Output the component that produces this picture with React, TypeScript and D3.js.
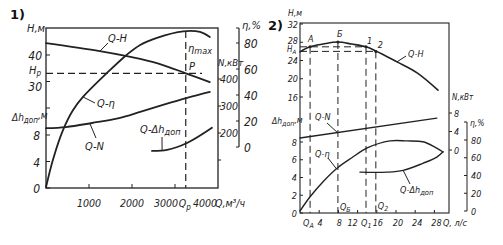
import React from "react";
import * as d3 from "d3";

// ---------- Chart 1 data (Q in m3/h) ----------
const c1QH = [0, 1250, 1880, 2190, 2720, 3250, 3810];
const c1H = [44.5, 41.5, 39.6, 38.5, 36.2, 33.1, 29.8];
const c1QEta = [0, 160, 395, 630, 860, 1420, 1880, 2190, 2580, 3190, 3580, 3810];
const c1Eta = [-31, -10, 13, 28.5, 38.5, 57, 71, 78.5, 84, 89, 88.5, 84.6];
const c1QN = [0, 465, 1070, 1700, 2190, 2720, 3280, 3810];
const c1N = [218, 222, 237, 255, 278, 304, 330, 352];
const c1QDh = [2465, 2814, 3279, 3860];
const c1Dh = [5.6, 5.75, 6.8, 9.1];
const c1Qp = 3250;
const c1Hp = 33.1;
const c1XTicks = [1000, 2000, 3000];
const c1XLabels = ["1000", "2000", "3000", "4000"];
const c1XLabelVals = [1000, 2000, 3000, 4000];
const c1HTicks = [20, 30, 40];
const c1HLabels = [30, 40];
const c1DhTicks = [0, 4, 8];
const c1NTicks = [100, 200, 300, 400];
const c1NLabels = [200, 300, 400];
const c1EtaTicks = [0, 20, 40, 60, 80];

// ---------- Chart 2 data (Q in l/s) ----------
const c2QH = [0, 2.1, 4.8, 7.9, 10.8, 13.75, 15.8, 20.2, 24.4, 28.75];
const c2H = [25.9, 27.0, 27.6, 28.05, 27.6, 27.0, 26.1, 23.7, 21.3, 17.5];
const c2QN = [0, 28.5];
const c2N = [2.6, 6.9];
const c2QEta = [0, 2.1, 4.8, 7.9, 10.8, 14.0, 18.75, 22.3, 25.6, 28.1, 29.8];
const c2Eta = [0, 16, 33, 49, 60, 71, 79, 79, 78, 72, 66.5];
const c2QDh = [12.5, 18.1, 21.5, 25.6, 28.5, 29.8];
const c2Dh = [4.6, 4.6, 4.8, 5.6, 6.3, 6.9];
const c2QA = 2.1, c2QB = 7.9, c2Q1 = 13.75, c2Q2 = 15.8;
const c2HA = 27.0, c2H2 = 26.0, c2HB = 28.05;
const c2XTicks = [4, 8, 12, 16, 20, 24, 28];
const c2HTicks = [16, 20, 24, 28, 32];
const c2DhTicks = [0, 2, 4, 6, 8];
const c2NTicks = [0, 4, 8];
const c2EtaTicks = [0, 20, 40, 60, 80];

const INK = "#222";
const FONT = "'Liberation Sans Narrow','DejaVu Sans Condensed','DejaVu Sans',sans-serif";

function pts(xs: number[], ys: number[]): [number, number][] {
  return xs.map((x, i) => [x, ys[i]]);
}

export default function App() {
  // ---- chart 1 scales ----
  const x1 = d3.scaleLinear().domain([0, 4000]).range([46, 218]);
  const yH1 = d3.scaleLinear().domain([20, 40]).range([108, 55]);
  const yDh1 = d3.scaleLinear().domain([0, 8]).range([188, 135]);
  const yN1 = d3.scaleLinear().domain([0, 400]).range([187, 79]);
  const yE1 = d3.scaleLinear().domain([0, 80]).range([147, 43]);
  const top1 = 28, bot1 = 188;

  // ---- chart 2 scales ----
  const x2 = d3.scaleLinear().domain([0, 28]).range([300, 434.4]);
  const yH2 = d3.scaleLinear().domain([16, 32]).range([97, 24]);
  const yDh2 = d3.scaleLinear().domain([0, 8]).range([213, 142]);
  const yN2 = d3.scaleLinear().domain([0, 8]).range([150, 113]);
  const yE2 = d3.scaleLinear().domain([0, 80]).range([211, 140]);
  const top2 = 23, bot2 = 213, left2 = 300, right2 = 449;

  const mk = (xs: d3.ScaleLinear<number, number>, ys: d3.ScaleLinear<number, number>) =>
    d3.line<[number, number]>().x((d) => xs(d[0])).y((d) => ys(d[1])).curve(d3.curveCatmullRom.alpha(0.5));

  const curve = { fill: "none", stroke: INK, strokeWidth: 1.8, strokeLinecap: "round" as const };
  const dash = { stroke: INK, strokeWidth: 1.2, strokeDasharray: "7,4", fill: "none" };
  const thin = { stroke: INK, strokeWidth: 1 };
  const t = (size: number) => ({ fontFamily: FONT, fontStyle: "italic" as const, fontSize: size, fill: INK });

  const left1 = x1(0), right1 = x1(4000);
  const etaAx1 = 239;
  const etaAx2 = 467;

  return (
    <svg width={503} height={245} style={{ position: "absolute", left: 0, top: 0, background: "#fff" }}>
      <rect x={0} y={0} width={503} height={245} fill="#fff" />
      {/* ================= CHART 1 ================= */}
      <text x={10} y={19} style={{ fontFamily: "'DejaVu Sans',sans-serif", fontWeight: "bold", fontSize: 13, fill: "#111" }}>1)</text>
      <rect x={left1} y={top1} width={right1 - left1} height={bot1 - top1} fill="none" stroke={INK} strokeWidth={1.3} />
      {c1HTicks.map((v) => (
        <line key={"h1" + v} x1={left1} x2={left1 + 4} y1={yH1(v)} y2={yH1(v)} {...thin} />
      ))}
      {c1DhTicks.map((v) => (
        <line key={"d1" + v} x1={left1} x2={left1 + 4} y1={yDh1(v)} y2={yDh1(v)} {...thin} />
      ))}
      <text x={27} y={32} style={t(11)}>H,м</text>
      <text x={42} y={yH1(40) + 5} textAnchor="end" style={t(12)}>{c1HLabels[1]}</text>
      <text x={42} y={yH1(30) + 9} textAnchor="end" style={t(12)}>{c1HLabels[0]}</text>
      <text x={29} y={yH1(c1Hp) + 1} style={t(11)}>H<tspan dy={2} fontSize={8}>p</tspan></text>
      <text x={12} y={121} style={t(10)}>Δh<tspan dy={2} fontSize={8}>доп</tspan><tspan dy={-4}>,м</tspan></text>
      {c1DhTicks.map((v) => (
        <text key={"dl" + v} x={40} y={yDh1(v) + 5} textAnchor="end" style={t(12)}>{v}</text>
      ))}
      {c1XTicks.map((v) => (
        <line key={"x1" + v} x1={x1(v)} x2={x1(v)} y1={bot1} y2={bot1 - 4} {...thin} />
      ))}
      {c1XLabels.map((s, i) => (
        <text key={"xl" + s} x={x1(c1XLabelVals[i]) + [0, 0, -9, -13][i]} y={207} textAnchor="middle" style={t(10.5)}>{s}</text>
      ))}
      <text x={x1(c1Qp) - 7} y={207} style={t(10.5)}>Q<tspan dy={3} fontSize={8}>p</tspan></text>
      <text x={215} y={207} style={t(10.5)}>Q,м³/ч</text>
      {/* N axis (right edge) */}
      {c1NTicks.map((v) => (
        <line key={"n1" + v} x1={right1} x2={right1 + 3} y1={yN1(v)} y2={yN1(v)} {...thin} />
      ))}
      {c1NLabels.map((v) => (
        <text key={"nl" + v} x={right1 + 2} y={yN1(v) + 4} style={t(10.5)}>{v}</text>
      ))}
      <text x={218} y={66} style={t(9.5)}>N,кВт</text>
      {/* eta bracket axis */}
      <line x1={etaAx1} x2={etaAx1} y1={top1} y2={yE1(0)} stroke={INK} strokeWidth={1.2} />
      {c1EtaTicks.map((v) => (
        <line key={"e1" + v} x1={etaAx1 - 3} x2={etaAx1} y1={yE1(v)} y2={yE1(v)} {...thin} />
      ))}
      <line x1={etaAx1 - 3} x2={etaAx1} y1={top1} y2={top1} {...thin} />
      {c1EtaTicks.map((v) => (
        <text key={"el" + v} x={etaAx1 + 5} y={yE1(v) + 5} style={t(12)}>{v}</text>
      ))}
      <text x={242} y={29} style={t(11)}>η,%</text>
      {/* dashed */}
      <line x1={left1} x2={202} y1={yH1(c1Hp)} y2={yH1(c1Hp)} {...dash} />
      <line x1={x1(c1Qp)} x2={x1(c1Qp)} y1={31} y2={bot1} {...dash} />
      {/* curves */}
      <path d={mk(x1, yH1)(pts(c1QH, c1H)) || ""} {...curve} />
      <path d={mk(x1, yE1)(pts(c1QEta, c1Eta)) || ""} {...curve} />
      <path d={mk(x1, yN1)(pts(c1QN, c1N)) || ""} {...curve} />
      <path d={mk(x1, yDh1)(pts(c1QDh, c1Dh)) || ""} {...curve} />
      {/* curve labels + leaders */}
      <line x1={x1(1256)} y1={yH1(41.5)} x2={108} y2={43} {...thin} />
      <text x={108} y={42} style={t(11)}>Q-H</text>
      <line x1={x1(860)} y1={yE1(38.5)} x2={95} y2={103} {...thin} />
      <text x={97} y={107} style={t(11)}>Q-η</text>
      <line x1={x1(1020)} y1={yN1(235)} x2={96} y2={138} {...thin} />
      <text x={85} y={150} style={t(11)}>Q-N</text>
      <line x1={x1(2700)} y1={yDh1(5.7)} x2={162} y2={137} {...thin} />
      <text x={140} y={133} style={t(11)}>Q-Δh<tspan dy={2} fontSize={9}>доп</tspan></text>
      <text x={188} y={52} style={t(11)}>η<tspan dy={2} fontSize={9}>max</tspan></text>
      <text x={189} y={70} style={t(11)}>P</text>

      {/* ================= CHART 2 ================= */}
      <text x={268} y={30} style={{ fontFamily: "'DejaVu Sans',sans-serif", fontWeight: "bold", fontSize: 13, fill: "#111" }}>2)</text>
      <rect x={left2} y={top2} width={right2 - left2} height={bot2 - top2} fill="none" stroke={INK} strokeWidth={1.1} />
      {c2HTicks.map((v) => (
        <line key={"h2" + v} x1={left2} x2={left2 + 3} y1={yH2(v)} y2={yH2(v)} {...thin} />
      ))}
      {c2HTicks.map((v) => (
        <text key={"h2l" + v} x={298} y={yH2(v) + (v === 28 ? 2 : 3.5)} textAnchor="end" style={t(9)}>{v}</text>
      ))}
      <text x={288} y={16} style={t(8.5)}>H,м</text>
      <text x={287} y={52} style={t(8)}>H<tspan dy={1.5} fontSize={6}>A</tspan></text>
      {c2DhTicks.map((v) => (
        <line key={"d2" + v} x1={left2} x2={left2 + 3} y1={yDh2(v)} y2={yDh2(v)} {...thin} />
      ))}
      {c2DhTicks.map((v) => (
        <text key={"d2l" + v} x={297} y={yDh2(v) + 3.5} textAnchor="end" style={t(9)}>{v}</text>
      ))}
      <text x={272} y={124} style={t(8.5)}>Δh<tspan dy={2} fontSize={7}>доп</tspan><tspan dy={-3}>,м</tspan></text>
      {c2XTicks.map((v) => (
        <line key={"x2" + v} x1={x2(v)} x2={x2(v)} y1={bot2} y2={bot2 - 3} {...thin} />
      ))}
      {c2XTicks.map((v) => (
        <text key={"x2l" + v} x={x2(v) + (v === 12 ? -5 : v >= 20 ? 2 : 1)} y={226} textAnchor="middle" style={t(9)}>{v}</text>
      ))}
      <text x={x2(c2QA) - 7} y={226} style={t(9)}>Q<tspan dy={2} fontSize={7}>A</tspan></text>
      <text x={x2(c2Q1) - 5} y={226} style={t(9)}>Q<tspan dy={2} fontSize={7}>1</tspan></text>
      <text x={443} y={226} style={t(9)}>Q, л/с</text>
      <text x={x2(c2QB) + 2} y={210} style={t(9)}>Q<tspan dy={2} fontSize={7}>Б</tspan></text>
      <text x={x2(c2Q2) + 2} y={209} style={t(9)}>Q<tspan dy={2} fontSize={7}>2</tspan></text>
      {/* N axis */}
      {c2NTicks.map((v) => (
        <line key={"n2" + v} x1={right2} x2={right2 + 3} y1={yN2(v)} y2={yN2(v)} {...thin} />
      ))}
      {c2NTicks.map((v) => (
        <text key={"n2l" + v} x={right2 + 5} y={yN2(v) + 3.5} style={t(9)}>{v}</text>
      ))}
      <text x={452} y={100} style={t(8)}>N,кВт</text>
      {/* eta bracket */}
      <line x1={etaAx2} x2={etaAx2} y1={122} y2={yE2(0)} stroke={INK} strokeWidth={1} />
      <line x1={etaAx2 - 3} x2={etaAx2} y1={122} y2={122} {...thin} />
      {c2EtaTicks.map((v) => (
        <line key={"e2" + v} x1={etaAx2 - 3} x2={etaAx2} y1={yE2(v)} y2={yE2(v)} {...thin} />
      ))}
      {c2EtaTicks.map((v) => (
        <text key={"e2l" + v} x={etaAx2 + 4} y={yE2(v) + 3.5} style={t(9)}>{v}</text>
      ))}
      <text x={470} y={126} style={t(8.5)}>η,%</text>
      {/* dashed guide lines */}
      <line x1={left2} x2={x2(c2Q1)} y1={yH2(c2HA)} y2={yH2(c2HA)} {...dash} strokeWidth={1} />
      <line x1={left2} x2={x2(c2Q2)} y1={yH2(c2H2)} y2={yH2(c2H2)} {...dash} strokeWidth={1} />
      <line x1={x2(c2QA)} x2={x2(c2QA)} y1={yH2(c2HA)} y2={bot2} {...dash} strokeWidth={1} />
      <line x1={x2(c2QB)} x2={x2(c2QB)} y1={yH2(c2HB)} y2={bot2} {...dash} strokeWidth={1} />
      <line x1={x2(c2Q1)} x2={x2(c2Q1)} y1={yH2(c2HA)} y2={bot2} {...dash} strokeWidth={1} />
      <line x1={x2(c2Q2)} x2={x2(c2Q2)} y1={yH2(c2H2)} y2={bot2} {...dash} strokeWidth={1} />
      {/* curves */}
      <path d={mk(x2, yH2)(pts(c2QH, c2H)) || ""} {...curve} strokeWidth={1.6} />
      <path d={mk(x2, yN2)(pts(c2QN, c2N)) || ""} {...curve} strokeWidth={1.4} />
      <path d={mk(x2, yE2)(pts(c2QEta, c2Eta)) || ""} {...curve} strokeWidth={1.4} />
      <path d={mk(x2, yDh2)(pts(c2QDh, c2Dh)) || ""} {...curve} strokeWidth={1.4} />
      {/* points */}
      {[
        [c2QA, c2HA],
        [c2QB, c2HB],
        [c2Q1, c2HA],
        [c2Q2, c2H2],
      ].map(([q, h], i) => (
        <circle key={"p" + i} cx={x2(q)} cy={yH2(h)} r={1.5} fill={INK} />
      ))}
      <text x={x2(c2QA) - 2} y={42} style={t(9)}>A</text>
      <text x={x2(c2QB) - 1} y={37} style={t(9)}>Б</text>
      <text x={x2(c2Q1) + 1} y={44} style={t(9)}>1</text>
      <text x={x2(c2Q2) + 2} y={48} style={t(9)}>2</text>
      {/* curve labels */}
      <line x1={x2(20.2)} y1={yH2(23.7)} x2={406} y2={56} {...thin} />
      <text x={408} y={57} style={t(9)}>Q-H</text>
      <line x1={x2(7.8)} y1={yN2(3.78)} x2={327} y2={123} {...thin} />
      <text x={315} y={120} style={t(9)}>Q-N</text>
      <line x1={x2(7.6)} y1={yE2(47.5)} x2={328} y2={158} {...thin} />
      <text x={315} y={157} style={t(9)}>Q-η</text>
      <line x1={x2(21.5)} y1={yDh2(4.8)} x2={410} y2={184} {...thin} />
      <text x={400} y={193} style={t(9)}>Q-Δh<tspan dy={2} fontSize={7.5}>доп</tspan></text>
    </svg>
  );
}
